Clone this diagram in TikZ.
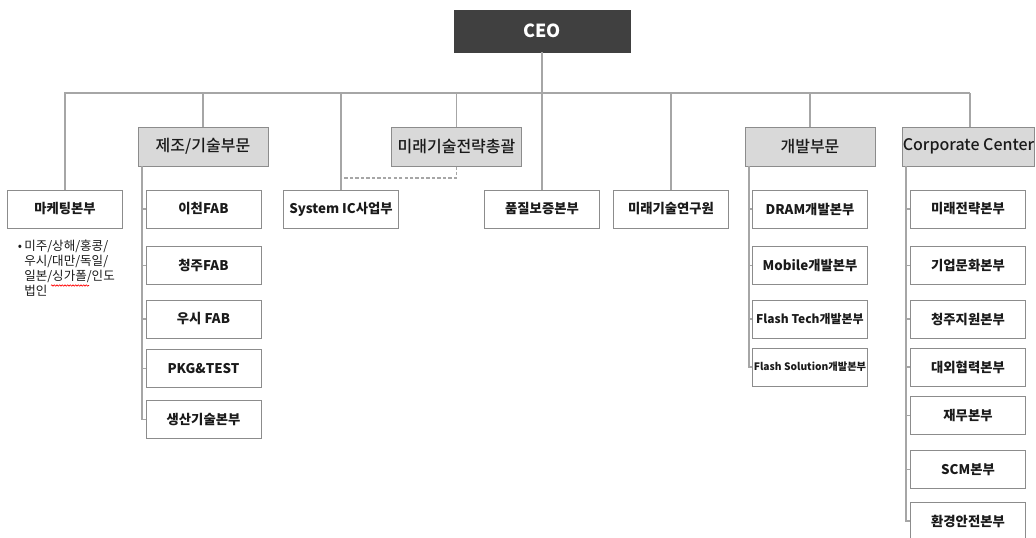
\documentclass[tikz,border=0pt]{standalone}
\usepackage{fontspec}
\setmainfont{Noto Sans CJK KR}
\newfontfamily\divfont{Noto Sans CJK KR Medium}
\usetikzlibrary{decorations.pathmorphing}
\definecolor{linegray}{HTML}{A6A6A6}
\definecolor{boxborder}{HTML}{8C8C8C}
\definecolor{divfill}{HTML}{D9D9D9}
\definecolor{ceogray}{HTML}{404040}
\definecolor{txt}{HTML}{1A1A1A}
\begin{document}
\begin{tikzpicture}[x=0.75pt,y=-0.75pt,
  conn/.style={draw=linegray, line width=0.8pt},
  ceobox/.style={fill=ceogray, draw=ceogray, minimum width=132pt, minimum height=31.5pt, inner sep=0pt, text=white, font=\bfseries\fontsize{13.5}{16}\selectfont},
  divbox/.style={fill=divfill, draw=boxborder, line width=0.75pt, minimum width=97.5pt, minimum height=29.25pt, inner sep=0pt, text=txt, font=\divfont\fontsize{12}{14}\selectfont},
  unitbox/.style={fill=white, draw=boxborder, line width=0.75pt, minimum width=86.25pt, minimum height=28.5pt, inner sep=0pt, text=txt, font=\bfseries\fontsize{10}{12}\selectfont},
  notetext/.style={inner sep=0pt, align=left, text=txt, font=\fontsize{9.4}{11.25}\selectfont}]
\useasboundingbox (0,0) rectangle (1036,537);
% CEO
\node[ceobox] (ceo) at (542,31) {CEO};
% bus
\coordinate (busL) at (64,93);
\coordinate (busR) at (970,93);
\draw[conn] (busL) -- (busR);
% level 2
\node[divbox] (mfg) at (203,146.5) {제조/기술부문};
\node[divbox] (fts) at (456.5,146.5) {미래기술전략총괄};
\node[divbox] (dev) at (810,146.5) {개발부문};
\node[divbox] (corp) at (968.5,146.5) {Corporate Center};
% level 3
\node[unitbox] (mkt) at (65,209) {마케팅본부};
\node[unitbox] (sysic) at (341,209) {System IC사업부};
\node[unitbox] (qa) at (542,209) {품질보증본부};
\node[unitbox] (lab) at (671,209) {미래기술연구원};
% drops
\draw[conn] (ceo.south) -- (qa.north);
\foreach \n in {mkt,sysic,lab}{\draw[conn] (\n.north) -- (\n.north |- busL);}
\foreach \n in {mfg,fts,dev}{\draw[conn] (\n.north) -- (\n.north |- busL);}
\draw[conn] (busR) -- (busR |- corp.north);
% dashed link
\coordinate (dj) at (341,178);
\draw[conn, dash pattern=on 2.5pt off 1.6pt] (fts.south) |- (dj) -- (sysic.north);
% note
\node[notetext, anchor=north west] (note) at (24,240) {\llap{•\,}미주/상해/홍콩/\\우시/대만/독일/\\일본/싱가폴/인도\\법인};
\draw[red, line width=0.5pt, decorate, decoration={zigzag, segment length=2pt, amplitude=0.5pt}] (51,285.5) -- (89,285.5);
% manufacturing children
\node[unitbox] (m1) at (203.5,209) {이천FAB};
\node[unitbox] (m2) at (203.5,265.5) {청주FAB};
\node[unitbox] (m3) at (203.5,319) {우시 FAB};
\node[unitbox] (m4) at (203.5,368.5) {PKG\&TEST};
\node[unitbox] (m5) at (203.5,419.5) {생산기술본부};
\coordinate (mfgS) at (142,166);
\draw[conn] (mfgS) |- (m5.west);
\foreach \n in {m1,m2,m3,m4}{\draw[conn] (\n.west) -- (\n.west -| mfgS);}
% development children
\node[unitbox] (d1) at (810,209) {DRAM개발본부};
\node[unitbox] (d2) at (810,265.5) {Mobile개발본부};
\node[unitbox, font=\bfseries\fontsize{9}{11}\selectfont] (d3) at (810,319) {Flash Tech개발본부};
\node[unitbox, font=\bfseries\fontsize{7.7}{9}\selectfont] (d4) at (810,367) {Flash Solution개발본부};
\coordinate (devS) at (749,166);
\draw[conn] (devS) |- (d4.west);
\foreach \n in {d1,d2,d3}{\draw[conn] (\n.west) -- (\n.west -| devS);}
% corporate children
\node[unitbox] (c1) at (968,209) {미래전략본부};
\node[unitbox] (c2) at (968,265.5) {기업문화본부};
\node[unitbox] (c3) at (968,319) {청주지원본부};
\node[unitbox] (c4) at (968,367) {대외협력본부};
\node[unitbox] (c5) at (968,415.5) {재무본부};
\node[unitbox] (c6) at (968,469.5) {SCM본부};
\node[unitbox] (c7) at (968,521) {환경안전본부};
\coordinate (corpS) at (906,166);
\draw[conn] (corpS) |- (c7.west);
\foreach \n in {c1,c2,c3,c4,c5,c6}{\draw[conn] (\n.west) -- (\n.west -| corpS);}
\end{tikzpicture}
\end{document}
